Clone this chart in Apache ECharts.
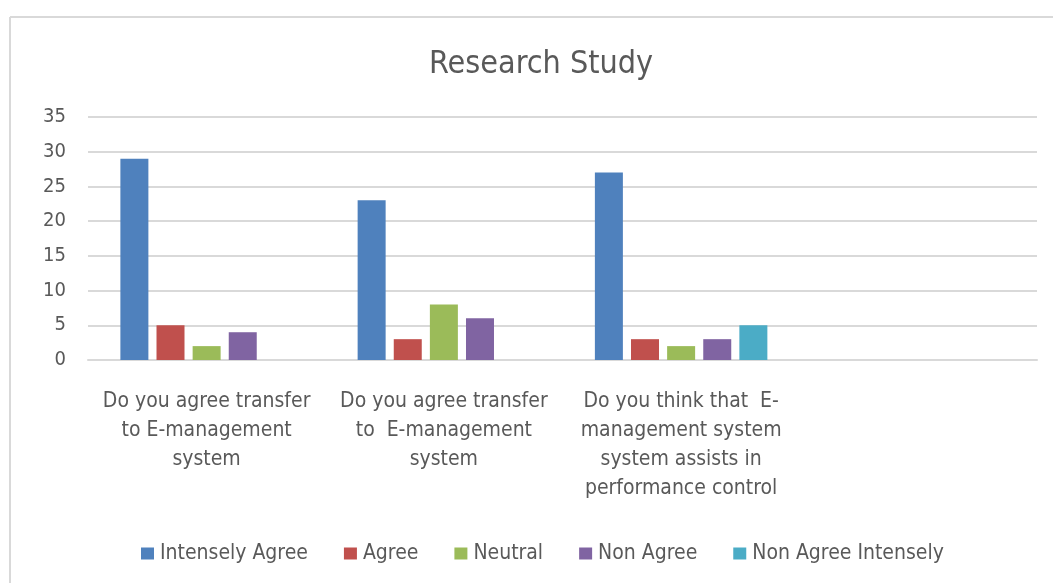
<!DOCTYPE html>
<html>
<head>
<meta charset="utf-8">
<style>
html,body{margin:0;padding:0;background:#fff;overflow:hidden;}
#c{width:1053px;height:583px;}
</style>
<script src="https://cdn.jsdelivr.net/npm/echarts@6/dist/echarts.min.js"></script>
</head>
<body>
<div id="c"></div>
<script>
var categories = [
  "Do you agree transfer\nto E-management\nsystem",
  "Do you agree transfer\nto  E-management\nsystem",
  "Do you think that  E-\nmanagement system\nsystem assists in\nperformance control",
  ""
];
var seriesNames = ["Intensely Agree", "Agree", "Neutral", "Non Agree", "Non Agree Intensely"];
var intenselyAgree = [29, 23, 27, null];
var agree = [5, 3, 3, null];
var neutral = [2, 8, 2, null];
var nonAgree = [4, 6, 3, null];
var nonAgreeIntensely = [0, 0, 5, null];
var yTicks = [0, 5, 10, 15, 20, 25, 30, 35];

var colors = ["#4F81BD", "#C0504D", "#9BBB59", "#8064A2", "#4BACC6"];
var allData = [intenselyAgree, agree, neutral, nonAgree, nonAgreeIntensely];
var FONT = "'Liberation Sans Narrow', 'DejaVu Sans Condensed', 'Roboto', sans-serif";

var chart = echarts.init(document.getElementById('c'), null, {renderer: 'canvas'});
chart.setOption({
  animation: false,
  color: colors,
  textStyle: {fontFamily: FONT},
  title: {
    text: "Research Study",
    left: 424,
    top: 44,
    textStyle: {fontFamily: FONT, fontSize: 32, fontWeight: 'normal', color: '#595959'}
  },
  graphic: [
    {type: 'line', shape: {x1: 10, y1: 17, x2: 1053, y2: 17}, style: {stroke: '#d9d9d9', lineWidth: 2}},
    {type: 'line', shape: {x1: 10, y1: 17, x2: 10, y2: 583}, style: {stroke: '#d9d9d9', lineWidth: 2}}
  ],
  legend: {
    data: seriesNames,
    bottom: 14,
    left: 136,
    itemWidth: 13,
    itemHeight: 12,
    itemGap: 36,
    icon: 'rect',
    textStyle: {fontFamily: FONT, fontSize: 21, color: '#595959', padding: [0, 0, 0, 1]}
  },
  grid: {left: 88, right: 16, top: 117, bottom: 223, containLabel: false},
  xAxis: {
    type: 'category',
    data: categories,
    axisLine: {show: true, lineStyle: {color: '#d9d9d9', width: 2}},
    axisTick: {show: false},
    axisLabel: {fontFamily: FONT, fontSize: 21, color: '#595959', lineHeight: 29, margin: 27, interval: 0}
  },
  yAxis: {
    type: 'value',
    min: 0,
    max: 35,
    interval: 5,
    axisLine: {show: false},
    axisTick: {show: false},
    splitLine: {lineStyle: {color: '#d9d9d9', width: 2}},
    axisLabel: {fontFamily: FONT, fontSize: 20, color: '#595959', margin: 22,
      formatter: function(v){ return yTicks.indexOf(v) >= 0 ? String(v) : ''; }}
  },
  series: seriesNames.map(function(n, i){
    return {
      name: n,
      type: 'bar',
      data: allData[i],
      barWidth: 28,
      barGap: '29%',
      itemStyle: {color: colors[i]}
    };
  })
});
</script>
</body>
</html>
